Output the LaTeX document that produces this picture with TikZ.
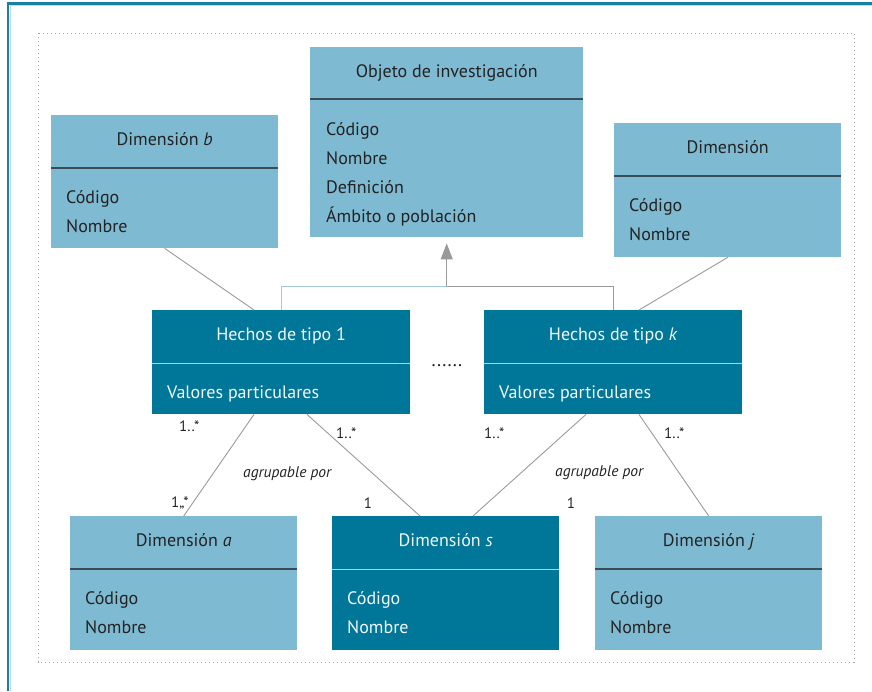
\documentclass[tikz,border=0pt]{standalone}
\usepackage{fontspec}
\setmainfont{PT Sans}
\usetikzlibrary{calc,arrows.meta}

\definecolor{lightfill}{HTML}{7EBAD2}
\definecolor{darkfill}{HTML}{007698}
\definecolor{inktext}{HTML}{232323}
\definecolor{paletext}{HTML}{F2F8FA}
\definecolor{slateline}{HTML}{3A4C55}
\definecolor{paleline}{HTML}{A8D6E6}
\definecolor{connector}{HTML}{9A9A9A}
\definecolor{framedark}{HTML}{1A7FA0}
\definecolor{framelight}{HTML}{B5DEEC}
\definecolor{dotgray}{HTML}{A8A8A8}

% one UML class: name, style, left, top, width, height, divider offset
\newcommand{\umlclass}[7]{%
  \node[#2, minimum width=#5pt, minimum height=#6pt] (#1) at (#3,#4) {};
  \draw[#2div] ($(#1.north west)+(0,#7)$) -- ($(#1.north east)+(0,#7)$);
}

\begin{document}
\begin{tikzpicture}[x=1pt, y=-1pt,
  lightbox/.style={rectangle, fill=lightfill, draw=none, inner sep=0pt, anchor=north west},
  darkbox/.style={rectangle, fill=darkfill, draw=none, inner sep=0pt, anchor=north west},
  lightboxdiv/.style={draw=slateline, line width=1.3pt},
  darkboxdiv/.style={draw=paleline, line width=1pt},
  boxfont/.style={font=\fontsize{18}{21}\selectfont},
  ltitle/.style={boxfont, anchor=base, inner sep=0pt, text=inktext},
  litem/.style={boxfont, anchor=base west, inner sep=0pt, text=inktext},
  dtitle/.style={boxfont, anchor=base, inner sep=0pt, text=paletext},
  ditem/.style={boxfont, anchor=base west, inner sep=0pt, text=paletext},
  mult/.style={anchor=base west, inner sep=0pt, text=inktext, font=\fontsize{15}{17}\selectfont},
  assoc/.style={anchor=base west, inner sep=0pt, text=inktext, font=\fontsize{15.5}{17}\selectfont\itshape},
  conn/.style={draw=connector, line width=0.9pt},
]
\useasboundingbox (0,0) rectangle (872,691);

% page frame
\draw[framedark, line width=2.2pt] (8,691) -- (8,3.5) -- (872,3.5);
\draw[framelight, line width=0.9pt] (10.2,691) -- (10.2,5.7) -- (872,5.7);

% dotted enclosure
\draw[dotgray, line width=1pt, dash pattern=on 1.3pt off 2.7pt] (38,33) rectangle (854,662);

% classes
\umlclass{ob}{lightbox}{310}{47}{273}{190}{52}
\umlclass{db}{lightbox}{51}{115}{227}{133}{53}
\umlclass{dr}{lightbox}{614}{123}{227}{134}{53}
\umlclass{h1}{darkbox}{152}{310}{258}{104}{53}
\umlclass{hk}{darkbox}{484}{310}{258}{104}{53}
\umlclass{da}{lightbox}{70}{516}{227}{134}{53}
\umlclass{ds}{darkbox}{332}{516}{227}{134}{53}
\umlclass{dj}{lightbox}{595}{516}{227}{134}{53}

% class texts
\node[ltitle] (ob-t) at ($(ob.north)+(0,30)$) {Objeto de investigación};
\node[litem] (ob-1) at ($(ob.north west)+(16,88)$) {Código};
\node[litem] (ob-2) at ($(ob.north west)+(16,117)$) {Nombre};
\node[litem] (ob-3) at ($(ob.north west)+(16,146)$) {Definición};
\node[litem] (ob-4) at ($(ob.north west)+(16,175)$) {Ámbito o población};

\node[ltitle] (db-t) at ($(db.north)+(0,30)$) {Dimensión \textit{b}};
\node[litem] (db-1) at ($(db.north west)+(15,88)$) {Código};
\node[litem] (db-2) at ($(db.north west)+(15,117)$) {Nombre};

\node[ltitle] (dr-t) at ($(dr.north)+(0,30)$) {Dimensión};
\node[litem] (dr-1) at ($(dr.north west)+(15,88)$) {Código};
\node[litem] (dr-2) at ($(dr.north west)+(15,117)$) {Nombre};

\node[dtitle] (h1-t) at ($(h1.north)+(0,30)$) {Hechos de tipo 1};
\node[ditem] (h1-1) at ($(h1.north west)+(15,88)$) {Valores particulares};

\node[dtitle] (hk-t) at ($(hk.north)+(0,30)$) {Hechos de tipo \textit{k}};
\node[ditem] (hk-1) at ($(hk.north west)+(15,88)$) {Valores particulares};

\node[ltitle] (da-t) at ($(da.north)+(0,30)$) {Dimensión \textit{a}};
\node[litem] (da-1) at ($(da.north west)+(15,88)$) {Código};
\node[litem] (da-2) at ($(da.north west)+(15,117)$) {Nombre};

\node[dtitle] (ds-t) at ($(ds.north)+(0,30)$) {Dimensión \textit{s}};
\node[ditem] (ds-1) at ($(ds.north west)+(15,88)$) {Código};
\node[ditem] (ds-2) at ($(ds.north west)+(15,117)$) {Nombre};

\node[ltitle] (dj-t) at ($(dj.north)+(0,30)$) {Dimensión \textit{j}};
\node[litem] (dj-1) at ($(dj.north west)+(15,88)$) {Código};
\node[litem] (dj-2) at ($(dj.north west)+(15,117)$) {Nombre};

% ellipsis between the fact classes
\node[anchor=base, inner sep=0pt, text=inktext, font=\fontsize{19}{21}\selectfont] (dots) at (447,366) {......};

% generalisation towards the research object
\coordinate (join) at ($(ob.south)+(0,49)$);
\draw[draw=paleline!80!connector, line width=0.9pt] (h1.north) |- (join);
\draw[conn] (join) -| (hk.north);
\draw[conn, -{Triangle[length=16pt, width=12pt]}, shorten >=6pt, fill=connector] (join) -- (ob.south);

% upper dimensions to the fact classes
\draw[conn] (db.south) -- ($(h1.north west)+(102,0)$);
\draw[conn] (dr.south) -- ($(hk.north west)+(155,0)$);

% fact classes to the lower dimensions
\draw[conn] ($(h1.south west)+(102,0)$) -- (da.north);
\draw[conn] ($(h1.south west)+(155,0)$) -- ($(ds.north west)+(88,0)$);
\draw[conn] ($(hk.south west)+(102,0)$) -- ($(ds.north west)+(141,0)$);
\draw[conn] ($(hk.south west)+(155,0)$) -- (dj.north);

% multiplicities and association names
\node[mult] (m1) at (179,431) {1..*};
\node[mult] (m2) at (336,438) {1..*};
\node[mult] (m3) at (484,438) {1..*};
\node[mult] (m4) at (664,438) {1..*};
\node[mult] (m5) at (171,507) {1,,*};
\node[mult, anchor=base] (m6) at (368,508) {1};
\node[mult, anchor=base] (m7) at (571,508) {1};
\node[assoc] (g1) at (243,477) {agrupable por};
\node[assoc] (g2) at (555,476) {agrupable por};
\end{tikzpicture}
\end{document}
